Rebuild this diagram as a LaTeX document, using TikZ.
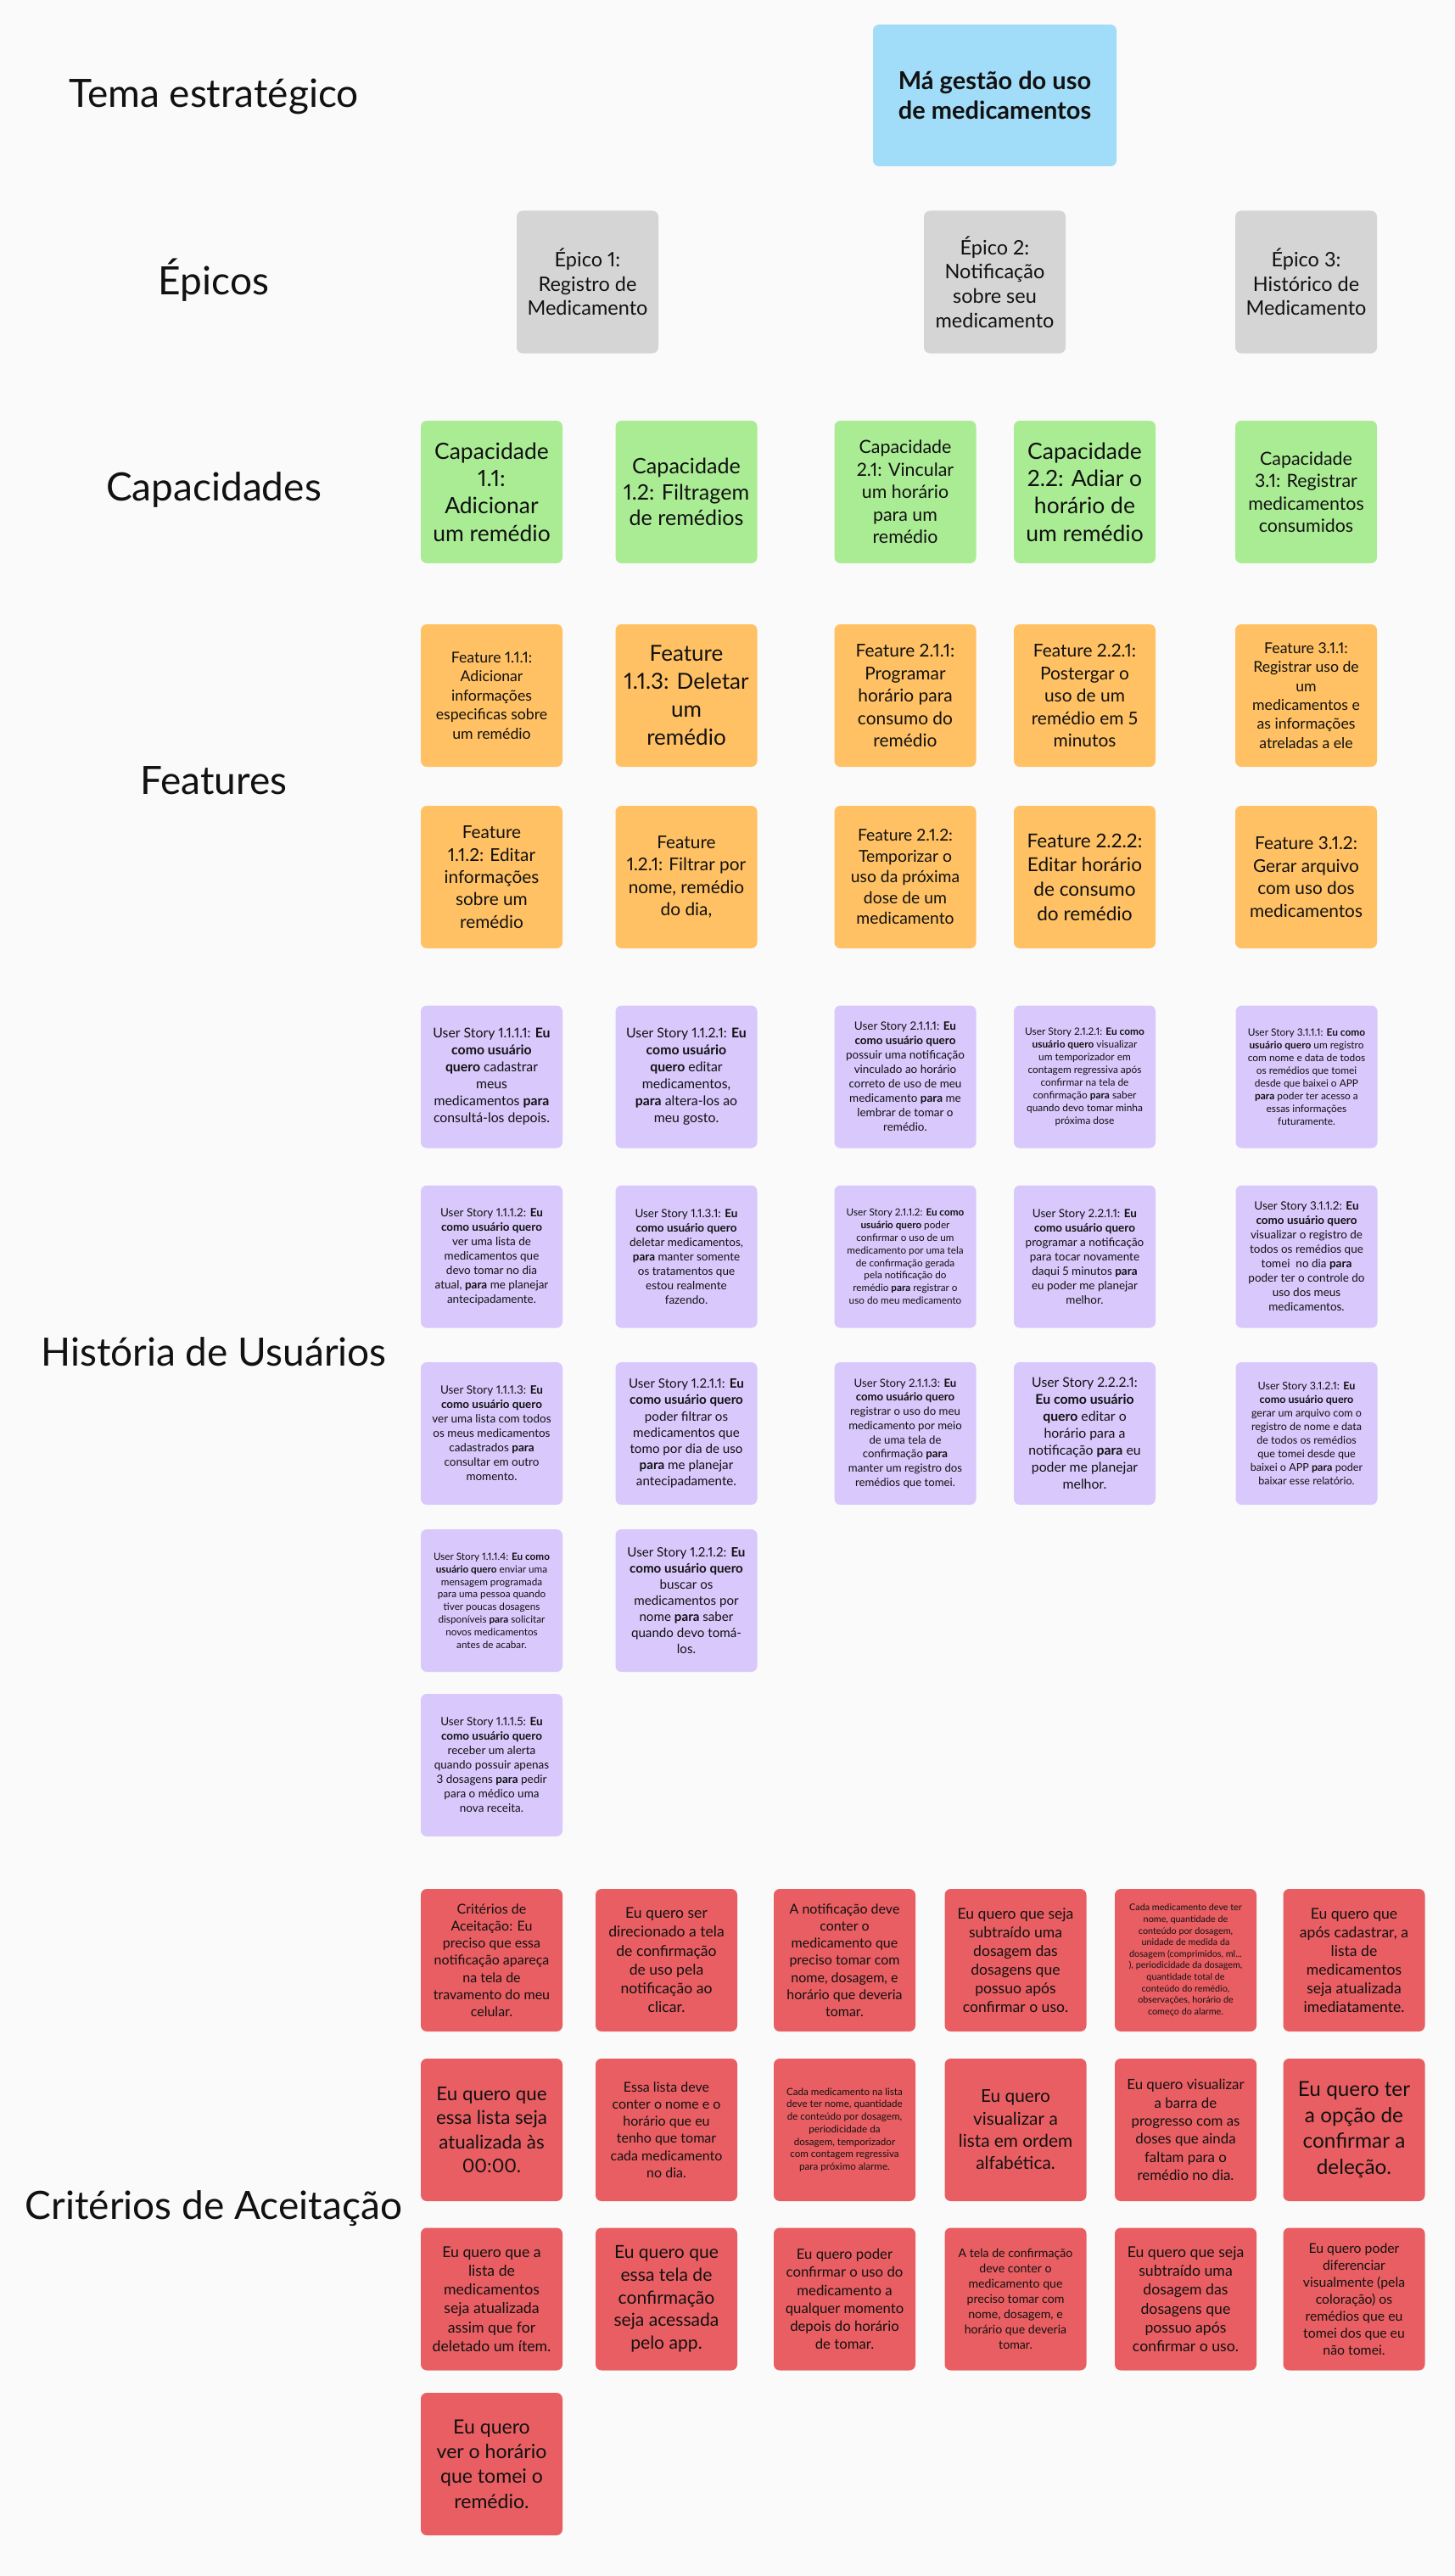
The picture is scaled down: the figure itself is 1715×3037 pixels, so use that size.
\documentclass[tikz,border=0pt]{standalone}
\usepackage{fontspec}
\setmainfont{Lato}[Numbers=Proportional]
\definecolor{paper}{HTML}{FAFAFA}
\definecolor{ink}{HTML}{111111}
\definecolor{themeblue}{HTML}{A1DCF8}
\definecolor{epicgray}{HTML}{D5D5D5}
\definecolor{capgreen}{HTML}{AAEC94}
\definecolor{featorange}{HTML}{FFC163}
\definecolor{storyviolet}{HTML}{D8C8FC}
\definecolor{acceptred}{HTML}{E95E62}
\begin{document}
\begin{tikzpicture}[x=1pt,y=-1pt,
  card/.style={rounded corners=7pt, minimum width=167pt, minimum height=168pt,
    inner sep=0pt, align=center, text=ink},
  theme/.style={card, fill=themeblue, minimum width=287pt, minimum height=167pt},
  epic/.style={card, fill=epicgray},
  capab/.style={card, fill=capgreen},
  feat/.style={card, fill=featorange},
  story/.style={card, fill=storyviolet},
  accept/.style={card, fill=acceptred},
  rowlabel/.style={anchor=base, text=ink, font=\fontsize{46}{55}\selectfont},
  % exact size / line pitch
  fx/.style 2 args={font=\fontsize{#1}{#2}\selectfont},
  % card text, size slightly condensed against the line pitch
  fs/.style 2 args={font=\fontsize{\fpeval{0.93*#1}}{#2}\selectfont}]

% page background
\fill[paper] (0,0) rectangle (1715,3037);

% row titles
\node[rowlabel] (lTema) at (252,127) {Tema estratégico};
\node[rowlabel] (lEpic) at (252,347) {Épicos};
\node[rowlabel] (lCap)  at (252,590) {Capacidades};
\node[rowlabel] (lFeat) at (252,936) {Features};
\node[rowlabel] (lUS)   at (252,1610) {História de Usuários};
\node[rowlabel] (lAC)   at (252,2616) {Critérios de Aceitação};

% strategic theme
\node[theme, fx={29}{35}] (tema) at (1172.5,112.5)
  {\bfseries Má gestão do uso\\\bfseries de medicamentos};

% epics
\node[epic, fx={23.5}{28.7}] (ep1) at (692.5,332.5) {Épico 1:\\Registro de\\Medicamento};
\node[epic, fx={23.5}{28.7}] (ep2) at (1172.5,332.5) {Épico 2:\\Notificação\\sobre seu\\medicamento};
\node[epic, fx={23.5}{28.7}] (ep3) at (1539.5,332.5) {Épico 3:\\Histórico de\\Medicamento};

% capabilities
\node[capab, fs={28.5}{32.4}] (c11) at (579.5,580) {Capacidade\\1.1:\\Adicionar\\um remédio};
\node[capab, fs={27}{30.7}]   (c12) at (809,580) {Capacidade\\1.2: Filtragem\\de remédios};
\node[capab, fs={23}{26.5}]   (c21) at (1067,580) {Capacidade\\2.1: Vincular\\um horário\\para um\\remédio};
\node[capab, fs={28.5}{32.4}] (c22) at (1278.5,580) {Capacidade\\2.2: Adiar o\\horário de\\um remédio};
\node[capab, fs={23}{26.5}]   (c31) at (1539.5,580) {Capacidade\\3.1: Registrar\\medicamentos\\consumidos};

% features, first row
\node[feat, fs={19}{22.4}]   (f111) at (579.5,820) {Feature 1.1.1:\\Adicionar\\informações\\especificas sobre\\um remédio};
\node[feat, fs={28}{33}]     (f113) at (809,820) {Feature\\1.1.3: Deletar\\um\\remédio};
\node[feat, fs={22.5}{26.5}] (f211) at (1067,820) {Feature 2.1.1:\\Programar\\horário para\\consumo do\\remédio};
\node[feat, fs={22.5}{26.5}] (f221) at (1278.5,820) {Feature 2.2.1:\\Postergar o\\uso de um\\remédio em 5\\minutos};
\node[feat, fs={19}{22.4}]   (f311) at (1539.5,820) {Feature 3.1.1:\\Registrar uso de\\um\\medicamentos e\\as informações\\atreladas a ele};

% features, second row
\node[feat, fs={22.4}{26.4}] (f112) at (579.5,1034) {Feature\\1.1.2: Editar\\informações\\sobre um\\remédio};
\node[feat, fs={22.4}{26.4}] (f121) at (809,1034) {Feature\\1.2.1: Filtrar por\\nome, remédio\\do dia,};
\node[feat, fs={20.8}{24.5}] (f212) at (1067,1034) {Feature 2.1.2:\\Temporizar o\\uso da próxima\\dose de um\\medicamento};
\node[feat, fs={24.3}{28.6}] (f222) at (1278.5,1034) {Feature 2.2.2:\\Editar horário\\de consumo\\do remédio};
\node[feat, fs={22.4}{26.4}] (f312) at (1539.5,1034) {Feature 3.1.2:\\Gerar arquivo\\com uso dos\\medicamentos};

% user stories
\node[story, fs={17}{20}] (us1111) at (579.5,1269.5)
  {User Story 1.1.1.1: \textbf{Eu}\\\textbf{como usuário}\\\textbf{quero} cadastrar\\meus\\medicamentos \textbf{para}\\consultá-los depois.};
\node[story, fs={17}{20}] (us1121) at (809,1269.5)
  {User Story 1.1.2.1: \textbf{Eu}\\\textbf{como usuário}\\\textbf{quero} editar\\medicamentos,\\\textbf{para} altera-los ao\\meu gosto.};
\node[story, fs={14.5}{17}] (us2111) at (1067,1269.5)
  {User Story 2.1.1.1: \textbf{Eu}\\\textbf{como usuário quero}\\possuir uma notificação\\vinculado ao horário\\correto de uso de meu\\medicamento \textbf{para} me\\lembrar de tomar o\\remédio.};
\node[story, fs={12.8}{15}] (us2121) at (1278.5,1269.5)
  {User Story 2.1.2.1: \textbf{Eu como}\\\textbf{usuário quero} visualizar\\um temporizador em\\contagem regressiva após\\confirmar na tela de\\confirmação \textbf{para} saber\\quando devo tomar minha\\próxima dose};
\node[story, fs={12.8}{15}] (us3111) at (1540,1269.5)
  {User Story 3.1.1.1: \textbf{Eu como}\\\textbf{usuário quero} um registro\\com nome e data de todos\\os remédios que tomei\\desde que baixei o APP\\\textbf{para} poder ter acesso a\\essas informações\\futuramente.};

\node[story, fs={14.5}{17}] (us1112) at (579.5,1481.5)
  {User Story 1.1.1.2: \textbf{Eu}\\\textbf{como usuário quero}\\ver uma lista de\\medicamentos que\\devo tomar no dia\\atual, \textbf{para} me planejar\\antecipadamente.};
\node[story, fs={14.5}{17}] (us1131) at (809,1481.5)
  {User Story 1.1.3.1: \textbf{Eu}\\\textbf{como usuário quero}\\deletar medicamentos,\\\textbf{para} manter somente\\os tratamentos que\\estou realmente\\fazendo.};
\node[story, fs={12.6}{14.8}] (us2112) at (1067,1481.5)
  {User Story 2.1.1.2: \textbf{Eu como}\\\textbf{usuário quero} poder\\confirmar o uso de um\\medicamento por uma tela\\de confirmação gerada\\pela notificação do\\remédio \textbf{para} registrar o\\uso do meu medicamento};
\node[story, fs={14.5}{17}] (us2211) at (1278.5,1481.5)
  {User Story 2.2.1.1: \textbf{Eu}\\\textbf{como usuário quero}\\programar a notificação\\para tocar novamente\\daqui 5 minutos \textbf{para}\\eu poder me planejar\\melhor.};
\node[story, fs={14.5}{17}] (us3112) at (1540,1481.5)
  {User Story 3.1.1.2: \textbf{Eu}\\\textbf{como usuário quero}\\visualizar o registro de\\todos os remédios que\\tomei\ \ no dia \textbf{para}\\poder ter o controle do\\uso dos meus\\medicamentos.};

\node[story, fs={14.5}{17}] (us1113) at (579.5,1690)
  {User Story 1.1.1.3: \textbf{Eu}\\\textbf{como usuário quero}\\ver uma lista com todos\\os meus medicamentos\\cadastrados \textbf{para}\\consultar em outro\\momento.};
\node[story, fs={16.3}{19.2}] (us1211) at (809,1690)
  {User Story 1.2.1.1: \textbf{Eu}\\\textbf{como usuário quero}\\poder filtrar os\\medicamentos que\\tomo por dia de uso\\\textbf{para} me planejar\\antecipadamente.};
\node[story, fs={14.2}{16.7}] (us2113) at (1067,1690)
  {User Story 2.1.1.3: \textbf{Eu}\\\textbf{como usuário quero}\\registrar o uso do meu\\medicamento por meio\\de uma tela de\\confirmação \textbf{para}\\manter um registro dos\\remédios que tomei.};
\node[story, fs={17}{20}] (us2221) at (1278.5,1690)
  {User Story 2.2.2.1:\\\textbf{Eu como usuário}\\\textbf{quero} editar o\\horário para a\\notificação \textbf{para} eu\\poder me planejar\\melhor.};
\node[story, fs={13.5}{15.9}] (us3121) at (1540,1690)
  {User Story 3.1.2.1: \textbf{Eu}\\\textbf{como usuário quero}\\gerar um arquivo com o\\registro de nome e data\\de todos os remédios\\que tomei desde que\\baixei o APP \textbf{para} poder\\baixar esse relatório.};

\node[story, fs={12.6}{14.8}] (us1114) at (579.5,1887)
  {User Story 1.1.1.4: \textbf{Eu como}\\\textbf{usuário quero} enviar uma\\mensagem programada\\para uma pessoa quando\\tiver poucas dosagens\\disponíveis \textbf{para} solicitar\\novos medicamentos\\antes de acabar.};
\node[story, fs={16.3}{19}] (us1212) at (809,1887)
  {User Story 1.2.1.2: \textbf{Eu}\\\textbf{como usuário quero}\\buscar os\\medicamentos por\\nome \textbf{para} saber\\quando devo tomá-\\los.};

\node[story, fs={14.5}{17}] (us1115) at (579.5,2081)
  {User Story 1.1.1.5: \textbf{Eu}\\\textbf{como usuário quero}\\receber um alerta\\quando possuir apenas\\3 dosagens \textbf{para} pedir\\para o médico uma\\nova receita.};

% acceptance criteria, first row
\node[accept, fs={17.2}{20.2}] (ac01) at (579.5,2311)
  {Critérios de\\Aceitação: Eu\\preciso que essa\\notificação apareça\\na tela de\\travamento do meu\\celular.};
\node[accept, fs={18.9}{22.2}] (ac02) at (785.5,2311)
  {Eu quero ser\\direcionado a tela\\de confirmação\\de uso pela\\notificação ao\\clicar.};
\node[accept, fs={17.2}{20.2}] (ac03) at (995.5,2311)
  {A notificação deve\\conter o\\medicamento que\\preciso tomar com\\nome, dosagem, e\\horário que deveria\\tomar.};
\node[accept, fs={18.9}{22.1}] (ac04) at (1197,2311)
  {Eu quero que seja\\subtraído uma\\dosagem das\\dosagens que\\possuo após\\confirmar o uso.};
\node[accept, fs={11.6}{13.6}] (ac05) at (1397.5,2311)
  {Cada medicamento deve ter\\nome, quantidade de\\conteúdo por dosagem,\\unidade de medida da\\dosagem (comprimidos, ml...\\), periodicidade da dosagem,\\quantidade total de\\conteúdo do remédio,\\observações, horário de\\começo do alarme.};
\node[accept, fs={18.9}{22.1}] (ac06) at (1596,2311)
  {Eu quero que\\após cadastrar, a\\lista de\\medicamentos\\seja atualizada\\imediatamente.};

% acceptance criteria, second row
\node[accept, fs={24}{28.3}] (ac07) at (579.5,2511)
  {Eu quero que\\essa lista seja\\atualizada às\\00:00.};
\node[accept, fs={17.2}{20.2}] (ac08) at (785.5,2511)
  {Essa lista deve\\conter o nome e o\\horário que eu\\tenho que tomar\\cada medicamento\\no dia.};
\node[accept, fs={12.5}{14.7}] (ac09) at (995.5,2511)
  {Cada medicamento na lista\\deve ter nome, quantidade\\de conteúdo por dosagem,\\periodicidade da\\dosagem, temporizador\\com contagem regressiva\\para próximo alarme.};
\node[accept, fs={22.4}{26.3}] (ac10) at (1197,2511)
  {Eu quero\\visualizar a\\lista em ordem\\alfabética.};
\node[accept, fs={18.1}{21.3}] (ac11) at (1397.5,2511)
  {Eu quero visualizar\\a barra de\\progresso com as\\doses que ainda\\faltam para o\\remédio no dia.};
\node[accept, fs={26.2}{30.8}] (ac12) at (1596,2511)
  {Eu quero ter\\a opção de\\confirmar a\\deleção.};

% acceptance criteria, third row
\node[accept, fs={19}{22.3}] (ac13) at (579.5,2710.5)
  {Eu quero que a\\lista de\\medicamentos\\seja atualizada\\assim que for\\deletado um ítem.};
\node[accept, fs={22.7}{26.7}] (ac14) at (785.5,2710.5)
  {Eu quero que\\essa tela de\\confirmação\\seja acessada\\pelo app.};
\node[accept, fs={18}{21.1}] (ac15) at (995.5,2710.5)
  {Eu quero poder\\confirmar o uso do\\medicamento a\\qualquer momento\\depois do horário\\de tomar.};
\node[accept, fs={15.2}{17.9}] (ac16) at (1197,2710.5)
  {A tela de confirmação\\deve conter o\\medicamento que\\preciso tomar com\\nome, dosagem, e\\horário que deveria\\tomar.};
\node[accept, fs={19}{22.3}] (ac17) at (1397.5,2710.5)
  {Eu quero que seja\\subtraído uma\\dosagem das\\dosagens que\\possuo após\\confirmar o uso.};
\node[accept, fs={17}{20}] (ac18) at (1596,2710.5)
  {Eu quero poder\\diferenciar\\visualmente (pela\\coloração) os\\remédios que eu\\tomei dos que eu\\não tomei.};

% acceptance criteria, fourth row
\node[accept, fs={24.8}{29.2}] (ac19) at (579.5,2905)
  {Eu quero\\ver o horário\\que tomei o\\remédio.};

\end{tikzpicture}
\end{document}
